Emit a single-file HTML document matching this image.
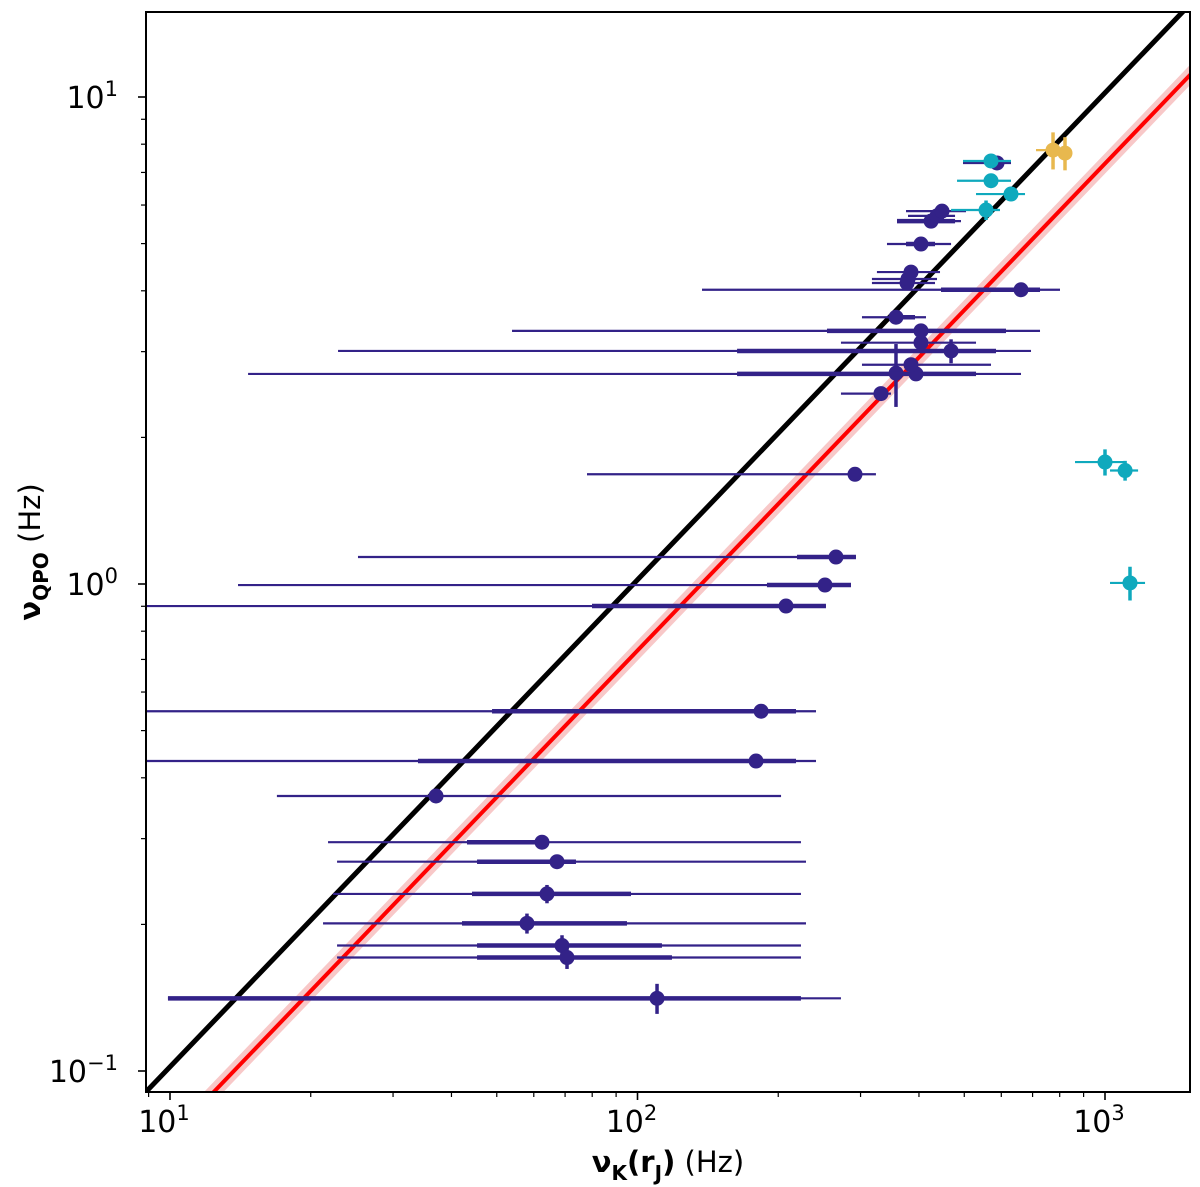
<!DOCTYPE html>
<html><head><meta charset="utf-8"><style>
html,body{margin:0;padding:0;background:#fff;width:1200px;height:1187px;overflow:hidden;}
svg{display:block;font-family:"DejaVu Sans","Liberation Sans",sans-serif;}
</style></head><body>
<svg id="chart" width="1200" height="1187" viewBox="0 0 1200 1187" xmlns="http://www.w3.org/2000/svg">
<defs><clipPath id="plotclip"><rect x="146" y="12" width="1044" height="1080"/></clipPath></defs>
<rect width="1200" height="1187" fill="#fff"/>
<g id="lines" clip-path="url(#plotclip)"></g>
<g id="marks" clip-path="url(#plotclip)"></g>
<rect x="146" y="12" width="1044" height="1080" fill="none" stroke="#000" stroke-width="2"/>
<g id="axes"></g>
<text x="668" y="1172" text-anchor="middle" font-size="29"><tspan font-weight="bold">ν</tspan><tspan font-weight="bold" font-size="20" dy="8">K</tspan><tspan font-weight="bold" dy="-8">(r</tspan><tspan font-weight="bold" font-size="20" dy="8">J</tspan><tspan font-weight="bold" dy="-8">)</tspan> (Hz)</text>
<text transform="translate(40,552) rotate(-90)" text-anchor="middle" font-size="29"><tspan font-weight="bold">ν</tspan><tspan font-weight="bold" font-size="20" dy="8">QPO</tspan><tspan dy="-8"> (Hz)</tspan></text>
</svg>
<script>
// ---- data ----
const purpleX   = [62.47,67.27,64.03,58.02,68.95,70.67,110.1,37.07,179.3,183.8,207.8,251.8,265.8,291.9,331.7,357.2,394.2,384.6,468.5,404.0,404.0,357.2,661.2,377.2,379.0,384.6,404.0,424.5,437.2,448.1,587.5];
const purpleY   = [0.295,0.269,0.231,0.201,0.181,0.171,0.141,0.367,0.433,0.548,0.901,0.995,1.136,1.68,2.46,2.71,2.70,2.82,3.01,3.13,3.31,3.53,4.02,4.15,4.23,4.37,4.99,5.56,5.70,5.83,7.32];
const purpleXLo = [21.78,22.77,22.33,21.25,22.77,22.77,9.90,16.93,8,8,8,13.98,25.24,77.98,272.4,357.2,14.69,302.1,22.88,272.4,53.90,302.1,137.4,317.3,317.3,325.2,341.7,359.0,379.0,375.3,496.9];
const purpleXHi = [223.7,229.3,223.7,229.3,223.7,223.7,272.4,202.8,240.9,240.9,253.0,286.2,293.3,323.6,348.5,357.2,661.2,570.4,694.6,529.8,726.1,414.1,801.2,432.9,437.2,443.7,468.5,492.0,477.8,504.3,629.4];
const purpleTkLo= [43.18,45.37,44.26,42.13,45.37,45.37,9.90,37.07,33.92,48.85,79.93,189.2,219.4,291.9,331.7,357.2,163.3,384.6,163.3,404.0,254.3,357.2,445.9,377.2,379.0,384.6,375.3,359.0,437.2,448.1,587.5];
const purpleTkHi= [62.47,73.86,96.85,94.95,112.8,118.5,223.7,37.07,218.3,218.3,253.0,286.2,293.3,291.9,331.7,357.2,529.8,384.6,584.6,404.0,614.1,392.3,726.1,377.2,379.0,384.6,432.9,477.8,437.2,448.1,587.5];
const purpleYErr= [0,0,0.010,0.0095,0.009,0.009,0.010,0,0,0,0,0,0,0,0,0.4,0,0,0.17,0.15,0,0,0,0,0,0,0,0,0,0,0];
const cyanX   = [570.4,570.4,629.4,556.6,1000,1104,1131];
const cyanY   = [7.39,6.73,6.32,5.86,1.78,1.71,1.005];
const cyanXLo = [496.9,482.5,529.8,468.5,862.7,1025,1025];
const cyanXHi = [629.4,629.4,674.4,596.2,1104,1177,1218];
const cyanYErr= [0,0,0,0.27,0.11,0.08,0.08];
const goldX   = [774.2,821.2];
const goldY   = [7.78,7.67];
const goldXLo = [711.9,789.5];
const goldXHi = [841.7,841.7];
const goldYErr= [0.68,0.6];
const blackLineRatio = 0.0102;
const redLineRatio = 0.0073;
const xTickVals = [10,100,1000];
const xTickLabels = ["1","2","3"];
const yTickVals = [0.1,1,10];
const yTickLabels = ["−1","0","1"];
// ---- scales ----
const X0=170, XD=467.5, Y0=584, YD=487;
function sx(v){return X0+(Math.log10(v)-1)*XD;}
function sy(v){return Y0-Math.log10(v)*YD;}
const NS="http://www.w3.org/2000/svg";
function mk(tag,attrs,parent){const e=document.createElementNS(NS,tag);for(const k in attrs)e.setAttribute(k,attrs[k]);parent.appendChild(e);return e;}
const lines=document.getElementById('lines'), marks=document.getElementById('marks'), axes=document.getElementById('axes');
const xa=5, xb=2000;
let band=mk('line',{x1:sx(xa),y1:sy(xa*redLineRatio),x2:sx(xb),y2:sy(xb*redLineRatio),stroke:'#f8c8c8','stroke-width':14},lines);


let red=mk('line',{x1:sx(xa),y1:sy(xa*redLineRatio),x2:sx(xb),y2:sy(xb*redLineRatio),stroke:'#ff0000','stroke-width':4},lines);


let blk=mk('line',{x1:sx(xa),y1:sy(xa*blackLineRatio),x2:sx(xb),y2:sy(xb*blackLineRatio),stroke:'#000','stroke-width':5},lines);


function drawPoint(x,y,xlo,xhi,tlo,thi,yerr,color,name){
  const g=mk('g',{},marks);
  
  
  const py=sy(y);
  mk('line',{x1:sx(xlo),y1:py,x2:sx(xhi),y2:py,stroke:color,'stroke-width':2.2},g);
  if(tlo!==null&&thi>tlo) mk('line',{x1:sx(tlo),y1:py,x2:sx(thi),y2:py,stroke:color,'stroke-width':4.5},g);
  if(yerr>0) mk('line',{x1:sx(x),y1:sy(y+yerr),x2:sx(x),y2:sy(Math.max(y-yerr,1e-3)),stroke:color,'stroke-width':3.5},g);
  mk('circle',{cx:sx(x),cy:py,r:7.5,fill:color},g);
}
for(let i=0;i<purpleX.length;i++) drawPoint(purpleX[i],purpleY[i],purpleXLo[i],purpleXHi[i],purpleTkLo[i],purpleTkHi[i],purpleYErr[i],'#332288','purple-point');
for(let i=0;i<cyanX.length;i++) drawPoint(cyanX[i],cyanY[i],cyanXLo[i],cyanXHi[i],null,0,cyanYErr[i],'#0fa9bd','cyan-point');
for(let i=0;i<goldX.length;i++) drawPoint(goldX[i],goldY[i],goldXLo[i],goldXHi[i],null,0,goldYErr[i],'#e8b84e','gold-point');
// ---- axes ----
for(let i=0;i<xTickVals.length;i++){
  const x=sx(xTickVals[i]);
  mk('line',{x1:x,y1:1092,x2:x,y2:1100,stroke:'#000','stroke-width':1.6},axes);
  const t=mk('text',{x:x-6,y:1132,'text-anchor':'middle','font-size':30},axes);
  
  
  t.textContent='10';
  const s=mk('tspan',{'font-size':21,dy:-12},t); s.textContent=xTickLabels[i];
}
[9,20,30,40,50,60,70,80,90,200,300,400,500,600,700,800,900].forEach(v=>{const x=sx(v);if(x>=146&&x<=1190)mk('line',{x1:x,y1:1092,x2:x,y2:1097,stroke:'#000','stroke-width':1.2},axes);});
for(let i=0;i<yTickVals.length;i++){
  const y=sy(yTickVals[i]);
  mk('line',{x1:138,y1:y,x2:146,y2:y,stroke:'#000','stroke-width':1.6},axes);
  const t=mk('text',{x:118,y:y+11,'text-anchor':'end','font-size':30},axes);
  
  
  t.textContent='10';
  const s=mk('tspan',{'font-size':21,dy:-12},t); s.textContent=yTickLabels[i];
}
[0.2,0.3,0.4,0.5,0.6,0.7,0.8,0.9,2,3,4,5,6,7,8,9].forEach(v=>{const y=sy(v);mk('line',{x1:141,y1:y,x2:146,y2:y,stroke:'#000','stroke-width':1.2},axes);});
</script>
</body></html>
